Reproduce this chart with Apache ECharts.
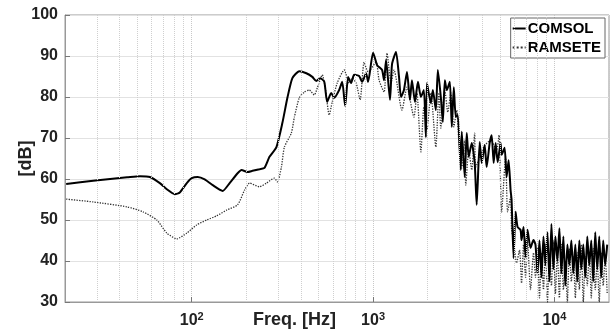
<!DOCTYPE html>
<html>
<head>
<meta charset="utf-8">
<script src="https://cdn.jsdelivr.net/npm/echarts@6/dist/echarts.min.js"></script>
<style>
  html, body { margin: 0; padding: 0; background: #fff; }
  #chart { width: 611px; height: 333px; }
</style>
</head>
<body>
<div id="chart"></div>
<script>
// COMSOL (solid) up to ~7.7 kHz
let comsolFreq = [20.3, 28.6, 44, 51.8, 58.8, 66.7, 72.9, 80.7, 85.9, 93.9, 100, 107.9, 117.9, 130.4, 148, 161.8, 179, 188.2, 203.1, 216.3,
  236.4, 251.8, 268.3, 293.1, 316.2, 336.9, 358.9, 391.8, 428.5, 462.4, 486.3, 511.6, 538.1, 558.5, 587.5, 610.8, 650.1, 675.5, 701.5, 728.8,
  756.8, 786.3, 837.5, 870.2, 915.4, 938.9, 1000, 1052, 1079, 1121, 1150, 1179, 1240, 1272, 1338, 1390, 1425, 1480, 1538, 1597,
  1638, 1702, 1768, 1835, 1906, 1955, 1981, 2083, 2137, 2219, 2276, 2364, 2424, 2487, 2551, 2650, 2717, 2787, 2858, 2931,
  3044, 3083, 3202, 3284, 3369, 3499, 3634, 3727, 3871, 3971, 4125, 4230, 4396, 4508, 4623, 4742, 4863, 5050, 5115, 5312,
  5449, 5589, 5732, 5805, 5954, 6106, 6262, 6505, 6588, 6756, 6930, 7106, 7382, 7666];
let comsolDb = [58.8, 59.6, 60.4, 60.7, 60.5, 59.0, 57.5, 56.3, 56.7, 59.0, 60.2, 60.5, 59.9, 58.5, 57.1, 59.0, 61.4, 62.2, 61.7, 62.0,
  62.4, 62.7, 65.4, 67.8, 73.7, 79.8, 84.6, 86.3, 85.8, 84.9, 83.9, 84.6, 83.7, 78.8, 81.0, 79.8, 81.7, 83.7, 77.8, 84.9,
  83.4, 85.4, 85.1, 83.7, 85.8, 83.7, 90.8, 87.8, 87.3, 86.6, 84.1, 89.0, 79.3, 88.0, 91.0, 84.9, 80.0, 81.7, 86.1, 79.3,
  84.1, 78.8, 83.7, 80.0, 81.7, 70.2, 83.4, 78.5, 81.7, 76.8, 86.6, 80.0, 73.9, 84.1, 81.7, 83.7, 72.7, 82.4, 75.1, 75.6,
  62.2, 71.5, 60.5, 71.2, 65.4, 68.8, 63.9, 53.7, 69.0, 63.9, 68.3, 62.9, 68.8, 70.7, 63.9, 68.8, 64.1, 68.8, 65.9, 67.6,
  60.5, 64.6, 57.3, 54.9, 40.7, 52.0, 48.3, 47.6, 45.1, 48.3, 41.0, 47.6, 43.2, 45.1];

// RAMSETE (dotted) up to ~7.7 kHz
let ramseteFreq = [20.3, 28.6, 44, 53.8, 64.2, 72.9, 82.7, 93.9, 106.5, 120.9, 137.1, 155.6, 179, 195.5, 208.3, 236.4, 258.2, 285.8, 296.9, 312.2,
  324.3, 354.2, 368.1, 391.8, 417.8, 444.6, 474.3, 492.4, 524.6, 544.5, 572.8, 595.4, 633.9, 692.8, 738, 766.6, 806.5, 848.4, 892.5, 938.9,
  1039, 1079, 1150, 1194, 1256, 1305, 1443, 1538, 1680, 1745, 1835, 1906, 1981, 2083, 2219, 2305, 2364, 2487, 2583, 2683,
  2787, 2894, 2968, 3083, 3202, 3243, 3369, 3499, 3634, 3680, 4073, 4452, 4802, 4950, 5115, 5380, 5518, 5732, 5805, 5954,
  6183, 6423, 6588, 6756, 6930, 7106, 7382, 7666];
let ramseteDb = [55.1, 54.4, 53.2, 52.0, 50.0, 46.8, 45.4, 46.8, 48.8, 50.0, 51.0, 52.4, 53.7, 57.3, 59.0, 58.1, 59.0, 60.2, 59.3, 62.9,
  67.8, 71.2, 75.1, 79.8, 81.2, 81.7, 80.5, 82.2, 85.4, 82.4, 75.6, 78.8, 83.4, 86.6, 83.4, 84.6, 83.4, 79.3, 88.5, 86.1,
  88.5, 84.1, 81.2, 90.7, 83.4, 86.6, 76.8, 82.4, 75.1, 81.0, 66.6, 77.6, 72.0, 81.0, 67.8, 81.0, 72.4, 81.7, 76.3, 81.0,
  72.7, 76.8, 69.5, 62.7, 69.5, 58.5, 67.1, 62.2, 71.2, 62.9, 67.8, 69.5, 67.1, 70.7, 52.0, 65.4, 52.0, 55.6, 47.6, 45.1,
  39.5, 42.7, 34.6, 44.0, 36.0, 45.0, 33.0, 42.0];

// noisy high-frequency band, both series
let bandFreq = [7863, 8065, 8272, 8484, 8701, 8925, 9154, 9388, 9628, 9874, 10127, 10387, 10653, 10926, 11206, 11493, 11788, 12090, 12400, 12717,
  13043, 13377, 13720, 14072, 14432, 14802, 15181, 15570, 15969, 16378, 16797, 17228, 17669, 18121, 18585, 19061, 19549];
let comsolBand = [44, 37, 45, 36, 46, 39, 47, 35, 49, 38, 46, 40, 48, 37, 46, 34, 44, 39, 45, 37,
  44, 35, 45, 38, 44, 36, 46, 39, 45, 35, 47, 38, 46, 36, 45, 39, 44];
let ramseteBand = [36, 43, 31, 42, 33, 44, 30, 41, 34, 45, 32, 42, 31, 44, 33, 40, 30, 43, 35, 41,
  31, 42, 33, 44, 30, 41, 34, 42, 31, 43, 33, 40, 30, 42, 34, 41, 32];

let minorGrid = [30, 40, 50, 60, 70, 80, 90, 200, 300, 400, 500, 600, 700, 800, 900,
  2000, 3000, 4000, 5000, 6000, 7000, 8000, 9000];

function zip(f, v) {
  return f.map(function(x, i) { return [x, v[i]]; });
}

let font = 'Liberation Sans, Arial, sans-serif';
let chart = echarts.init(document.getElementById('chart'), null, { renderer: 'canvas' });

let option = {
  animation: false,
  backgroundColor: '#fff',
  grid: { left: 65, right: 2, top: 15, bottom: 31, show: true, borderColor: '#999', borderWidth: 1 },
  legend: {
    data: ['COMSOL', 'RAMSETE'],
    orient: 'vertical',
    right: 6,
    top: 18,
    backgroundColor: '#fff',
    borderColor: '#666',
    borderWidth: 1,
    borderRadius: 0,
    padding: [3, 4, 3, 1],
    itemGap: 4,
    itemWidth: 13,
    itemHeight: 10,
    itemStyle: { opacity: 0 },
    textStyle: { fontFamily: font, fontWeight: 'bold', fontSize: 15, color: '#000', padding: [0, 0, 0, -3] }
  },
  xAxis: {
    type: 'log',
    logBase: 10,
    min: 20,
    max: 20000,
    axisLine: { show: true, lineStyle: { color: '#999' } },
    axisTick: { inside: true, length: 5, lineStyle: { color: '#777' } },
    splitLine: { show: true, lineStyle: { color: '#c8c8c8', type: 'dotted' } },
    axisLabel: {
      showMinLabel: false,
      showMaxLabel: false,
      margin: 9,
      fontFamily: font,
      fontWeight: 'bold',
      fontSize: 16,
      color: '#222',
      formatter: function(v) {
        let p = Math.log10(v);
        if (Math.abs(p - Math.round(p)) > 1e-6) return '';
        return '10{sup|' + Math.round(p) + '}';
      },
      rich: {
        sup: { fontFamily: font, fontWeight: 'bold', fontSize: 11, color: '#222', padding: [0, 0, 9, 0] }
      }
    }
  },
  yAxis: {
    type: 'value',
    min: 30,
    max: 100,
    interval: 10,
    name: '[dB]',
    nameLocation: 'middle',
    nameGap: 30,
    nameMoveOverlap: false,
    nameTextStyle: { fontFamily: font, fontWeight: 'bold', fontSize: 18, color: '#222' },
    axisLine: { show: true, lineStyle: { color: '#999' } },
    axisTick: { show: true, inside: true, length: 5, lineStyle: { color: '#777' } },
    splitLine: { show: true, lineStyle: { color: '#e2e2e2', type: 'solid' } },
    axisLabel: { fontFamily: font, fontWeight: 'bold', fontSize: 16, color: '#222', margin: 7 }
  },
  graphic: [{
    type: 'text',
    left: 253,
    top: 311,
    style: { text: 'Freq. [Hz]', fontFamily: font, fontWeight: 'bold', fontSize: 18, fill: '#222' }
  }],
  series: [
    {
      name: 'RAMSETE',
      type: 'line',
      showSymbol: false,
      symbol: 'none',
      smooth: 0.2,
      data: zip(ramseteFreq, ramseteDb).concat(zip(bandFreq, ramseteBand)),
      lineStyle: { color: '#333', width: 1.3, type: 'dotted' },
      itemStyle: { color: '#333' },
      markLine: {
        silent: true,
        symbol: ['none', 'none'],
        label: { show: false },
        lineStyle: { color: '#cfcfcf', width: 1, type: 'dotted' },
        data: minorGrid.map(function(f) { return { xAxis: f }; })
      }
    },
    {
      name: 'COMSOL',
      type: 'line',
      showSymbol: false,
      symbol: 'none',
      smooth: 0.2,
      data: zip(comsolFreq, comsolDb).concat(zip(bandFreq, comsolBand)),
      lineStyle: { color: '#000', width: 2 },
      itemStyle: { color: '#000' }
    }
  ]
};

chart.setOption(option);
</script>
</body>
</html>
